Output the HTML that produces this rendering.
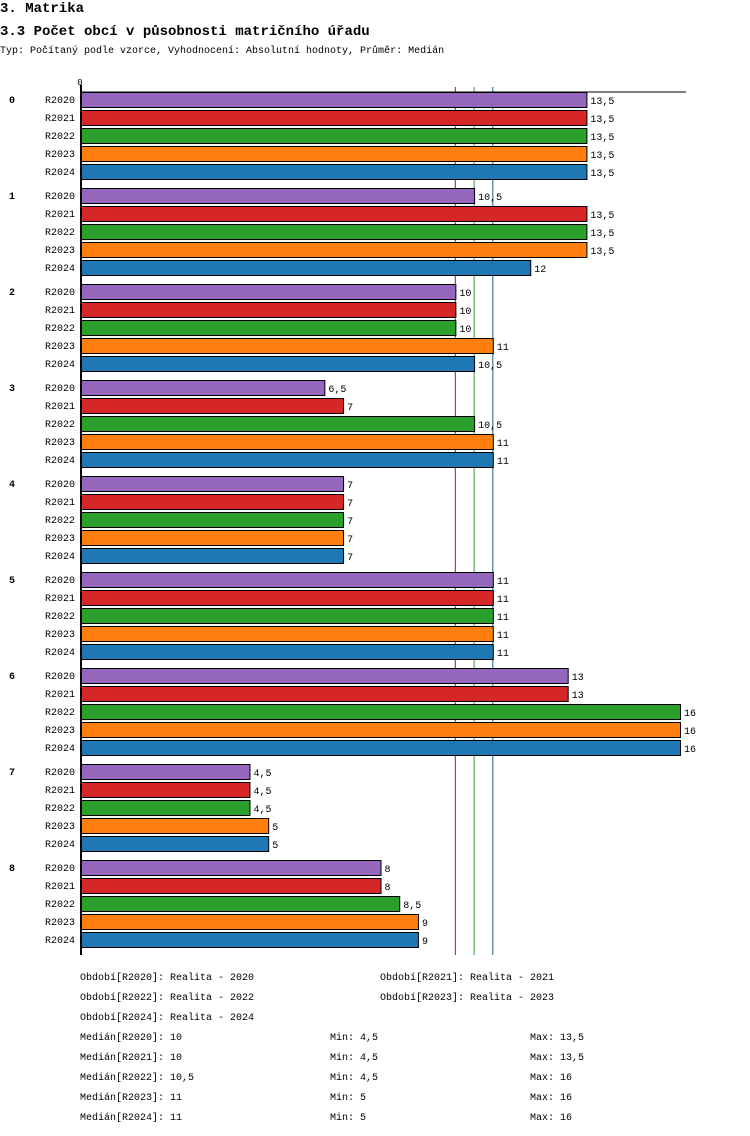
<!DOCTYPE html>
<html><head><meta charset="utf-8"><style>
body{margin:0;width:750px;height:1136px;background:#fff;font-family:"Liberation Mono",monospace;position:relative;overflow:hidden}
.t{position:absolute;white-space:pre;color:#000}
</style></head><body>
<div class="t" style="left:0;top:1px;font-size:14px;font-weight:bold">3. Matrika</div>
<div class="t" style="left:0;top:24px;font-size:14px;font-weight:bold">3.3 Počet obcí v působnosti matričního úřadu</div>
<div class="t" style="left:0;top:46px;font-size:10px">Typ: Počítaný podle vzorce, Vyhodnocení: Absolutní hodnoty, Průměr: Medián</div>
<svg id="chart" width="750" height="970" style="position:absolute;left:0;top:0" font-family="Liberation Mono, monospace" font-size="10"></svg>
<div id="legend"></div>
<script>
const groups=["0","1","2","3","4","5","6","7","8"];
const series=["R2020","R2021","R2022","R2023","R2024"];
const colors=["#9467bd","#d62728","#2ca02c","#ff7f0e","#1f77b4"];
const v2020=[13.5,10.5,10,6.5,7,11,13,4.5,8];
const v2021=[13.5,13.5,10,7,7,11,13,4.5,8];
const v2022=[13.5,13.5,10,10.5,7,11,16,4.5,8.5];
const v2023=[13.5,13.5,11,11,7,11,16,5,9];
const v2024=[13.5,12,10.5,11,7,11,16,5,9];
const values=[v2020,v2021,v2022,v2023,v2024];
const medians=[10,10,10.5,11,11];
const mins=[4.5,4.5,4.5,5,5];
const maxs=[13.5,13.5,16,16,16];
const periods=["Realita - 2020","Realita - 2021","Realita - 2022","Realita - 2023","Realita - 2024"];
const NS="http://www.w3.org/2000/svg";
const svg=document.getElementById('chart');
const x0=81,unit=(680-81)/16,top0=92,rowH=18,groupH=96;
const xs=v=>x0+v*unit;
const ys=(g,s)=>top0+g*groupH+s*rowH;
const fmt=v=>String(v).replace('.',',');
function mk(tag,a){const e=document.createElementNS(NS,tag);for(const k in a)e.setAttribute(k,a[k]);svg.appendChild(e);return e;}
medians.forEach((m,i)=>{
  const l=mk('line',{x1:xs(m),x2:xs(m),y1:87,y2:955,stroke:colors[i],'stroke-width':1});
  
  
});
groups.forEach((g,gi)=>{
  const gl=mk('text',{x:9,y:ys(gi,0)+11,'font-weight':'bold'});gl.textContent=g;
  
  
  series.forEach((s,si)=>{
    const y=ys(gi,si),v=values[si][gi];
    const lab=mk('text',{x:75,y:y+11,'text-anchor':'end'});lab.textContent=s;
    
    
    const r=mk('rect',{x:x0+0.5,y:y+0.5,width:xs(v)-x0,height:15,fill:colors[si],stroke:'#000','stroke-width':1});
    
    
    const vt=mk('text',{x:xs(v)+4,y:y+12});vt.textContent=fmt(v);
    
    
  });
});
const ax=mk('line',{x1:x0,x2:686,y1:92,y2:92,stroke:'#000','stroke-width':1});


const ay=mk('line',{x1:x0,x2:x0,y1:85,y2:955,stroke:'#000','stroke-width':2});


const z=mk('text',{x:80,y:85,'text-anchor':'middle','font-size':9});z.textContent='0';


const leg=document.getElementById('legend');
function txt(x,y,s,n){const d=document.createElement('div');d.className='t';d.style.left=x+'px';d.style.top=y+'px';d.style.fontSize='10px';d.textContent=s;


leg.appendChild(d);}
series.forEach((s,i)=>{
  txt(i%2?380:80,973+Math.floor(i/2)*20,'Období['+s+']: '+periods[i],'period-legend-'+s);
  const y=1033+i*20;
  txt(80,y,'Medián['+s+']: '+fmt(medians[i]),'median-stat-'+s);
  txt(330,y,'Min: '+fmt(mins[i]),'min-stat-'+s);
  txt(530,y,'Max: '+fmt(maxs[i]),'max-stat-'+s);
});
</script>
</body></html>
